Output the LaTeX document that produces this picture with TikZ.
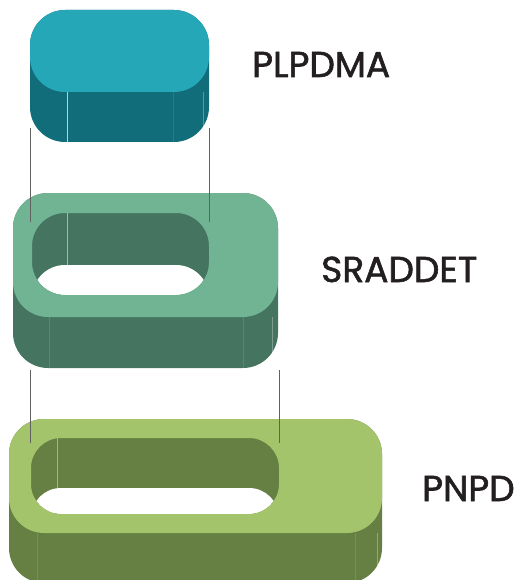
\documentclass[tikz,border=0pt]{standalone}
\usepackage{fontspec}
\setmainfont{Poppins}
\newfontfamily\labfont[FakeBold=1.6]{Poppins}
\definecolor{plLight}{HTML}{26A7B7}
\definecolor{plDark}{HTML}{116D79}
\definecolor{srLight}{HTML}{71B494}
\definecolor{srDark}{HTML}{457460}
\definecolor{pnLight}{HTML}{A3C46B}
\definecolor{pnDark}{HTML}{667F42}
\definecolor{labelInk}{HTML}{231F20}
\begin{document}
\begin{tikzpicture}[x=1pt, y=-1pt,
    label/.style ={anchor=base west, inner sep=0pt, text=labelInk, font=\labfont\fontsize{36}{36}\selectfont},
    guide/.style ={draw=black!62, line width=0.9pt},
    seam/.style ={draw=white, line width=0.6pt, opacity=0.45}]
   \useasboundingbox (0,0) rectangle (517,580);
   % PLPDMA
   \fill[plDark, rounded corners=35] (30,10) rectangle (209,142);
   \fill[plLight, rounded corners=35] (30,10) rectangle (209,92);
   \draw[seam, opacity=0.7] (67,92) -- (67,142);
   \draw[seam, opacity=0.1] (173,92) -- (173,142);
   \draw[seam, opacity=0.3] (203,92) -- (203,136);
   % SRADDET
   \fill[srDark, rounded corners=35] (13,193) rectangle (278,368);
   \begin{scope}
     \clip[rounded corners=33] (32,213) rectangle (209,295);
     \fill[white, rounded corners=33] (32,265) rectangle (209,347);
   \end{scope}
   \fill[srLight, even odd rule, rounded corners=35] (13,193) rectangle (278,317)
     [rounded corners=33] (32,213) rectangle (209,295);
   \draw[seam, opacity=0.5] (67,213) -- (67,265);
   \draw[seam, opacity=0.12] (49,317) -- (49,368);
   \draw[seam, opacity=0.12] (243,317) -- (243,368);
   \draw[seam, opacity=0.3] (272,317) -- (272,362);
   % PNPD
   \fill[pnDark, rounded corners=35] (9,419) rectangle (382,583);
   \begin{scope}
     \clip[rounded corners=30] (31,438) rectangle (279,514);
     \fill[white, rounded corners=30] (31,488) rectangle (279,564);
   \end{scope}
   \fill[pnLight, even odd rule, rounded corners=35] (9,419) rectangle (382,533)
     [rounded corners=30] (31,438) rectangle (279,514);
   \draw[seam, opacity=0.4] (57,438) -- (57,488);
   \draw[seam, opacity=0.12] (37,533) -- (37,580);
   \draw[seam, opacity=0.12] (355,533) -- (355,580);
   \draw[seam, opacity=0.3] (377,533) -- (377,575);
   % guides
   \coordinate (plL) at (30,128);
   \coordinate (plR) at (209,128);
   \coordinate (srTL) at (30,222);
   \coordinate (srTR) at (209,222);
   \coordinate (srBL) at (30,370);
   \coordinate (srBR) at (279,370);
   \coordinate (pnL) at (30,443);
   \coordinate (pnR) at (279,443);
   \draw[guide] (plL) -- (srTL);
   \draw[guide] (plR) -- (srTR);
   \draw[guide] (srBL) -- (pnL);
   \draw[guide] (srBR) -- (pnR);
   % labels
   \node[label] (plpdma) at (252,77) {PLPDMA};
   \node[label] (sraddet) at (321,282) {SRADDET};
   \node[label] (pnpd) at (422,501) {PNPD};
\end{tikzpicture}
\end{document}
